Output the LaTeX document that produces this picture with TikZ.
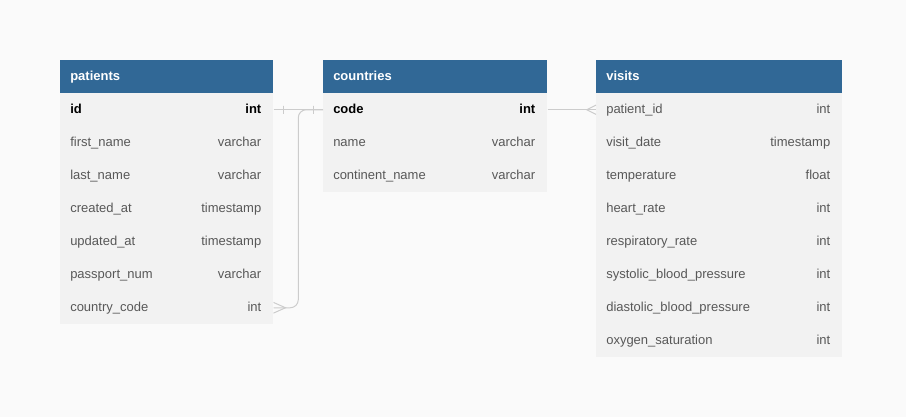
\documentclass[tikz,border=0pt]{standalone}
\usepackage{fontspec}
\setmainfont{Liberation Sans}
\usetikzlibrary{calc}
\definecolor{hdblue}{RGB}{49,104,150}
\definecolor{rowgray}{RGB}{242,242,242}
\definecolor{bggray}{RGB}{250,250,250}
\definecolor{txtgray}{RGB}{88,88,88}
\definecolor{conngray}{RGB}{204,204,204}
\begin{document}
\begin{tikzpicture}[x=0.75pt,y=-0.75pt,
    every node/.style={font=\fontsize{9.75}{12}\selectfont},
    tblhead/.style={fill=hdblue,anchor=north west,minimum height=24.75pt,inner sep=0},
    tblrow/.style={fill=rowgray,anchor=north west,minimum height=24.75pt,inner sep=0},
    tbltitle/.style={anchor=west,text=white,font=\fontsize{9.75}{12}\selectfont\bfseries,inner sep=0,text height=5.5pt,text depth=0pt},
    fld/.style={anchor=west,text=txtgray,inner sep=0,text height=5.5pt,text depth=0pt},
    typ/.style={anchor=east,text=txtgray,inner sep=0,text height=5.5pt,text depth=0pt},
    conn/.style={draw=conngray,line width=0.75pt},
    erbar/.style={draw=conngray,line width=0.75pt,inner sep=0,minimum width=0,minimum height=6pt}]
  \fill[bggray] (0,0) rectangle (906,417);
  \useasboundingbox (0,0) rectangle (906,417);
  % patients
  \node[tblhead,minimum width=159.75pt] (patients) at (60,60) {};
  \node[tbltitle] at ([xshift=7.5pt]patients.west) {patients};
  \foreach \fd/\ty [count=\i] in {id/int,first\_name/varchar,last\_name/varchar,created\_at/timestamp,updated\_at/timestamp,passport\_num/varchar,country\_code/int}{
    \node[tblrow,minimum width=159.75pt] (patients-\i) at (60,60+33*\i) {};
    \node[fld] at ([xshift=7.5pt]patients-\i.west) {\ifnum\i=1 \bfseries\color{black}\fi\fd};
    \node[typ] at ([xshift=-9pt]patients-\i.east) {\ifnum\i=1 \bfseries\color{black}\fi\ty};
  }
  % countries
  \node[tblhead,minimum width=168pt] (countries) at (323,60) {};
  \node[tbltitle] at ([xshift=7.5pt]countries.west) {countries};
  \foreach \fd/\ty [count=\i] in {code/int,name/varchar,continent\_name/varchar}{
    \node[tblrow,minimum width=168pt] (countries-\i) at (323,60+33*\i) {};
    \node[fld] at ([xshift=7.5pt]countries-\i.west) {\ifnum\i=1 \bfseries\color{black}\fi\fd};
    \node[typ] at ([xshift=-9pt]countries-\i.east) {\ifnum\i=1 \bfseries\color{black}\fi\ty};
  }
  % visits
  \node[tblhead,minimum width=184.5pt] (visits) at (596,60) {};
  \node[tbltitle] at ([xshift=7.5pt]visits.west) {visits};
  \foreach \fd/\ty [count=\i] in {patient\_id/int,visit\_date/timestamp,temperature/float,heart\_rate/int,respiratory\_rate/int,systolic\_blood\_pressure/int,diastolic\_blood\_pressure/int,oxygen\_saturation/int}{
    \node[tblrow,minimum width=184.5pt] (visits-\i) at (596,60+33*\i) {};
    \node[fld] at ([xshift=7.5pt]visits-\i.west) {\fd};
    \node[typ] at ([xshift=-9pt]visits-\i.east) {\ty};
  }
  % relations
  \draw[conn] (patients-1.east) -- (countries-1.west) node[erbar,pos=0.2]{} node[erbar,pos=0.8]{};
  \draw[conn,rounded corners=6pt] (patients-7.east) -| ($(patients-1.east)!.5!(countries-1.west)$) -- (countries-1.west);
  \draw[conn] ([yshift=4pt]patients-7.east) -- ([xshift=9pt]patients-7.east) -- ([yshift=-4pt]patients-7.east);
  \draw[conn] (countries-1.east) -- (visits-1.west);
  \draw[conn] ([yshift=3.5pt]visits-1.west) -- ([xshift=-7pt]visits-1.west) -- ([yshift=-3.5pt]visits-1.west);
\end{tikzpicture}
\end{document}
